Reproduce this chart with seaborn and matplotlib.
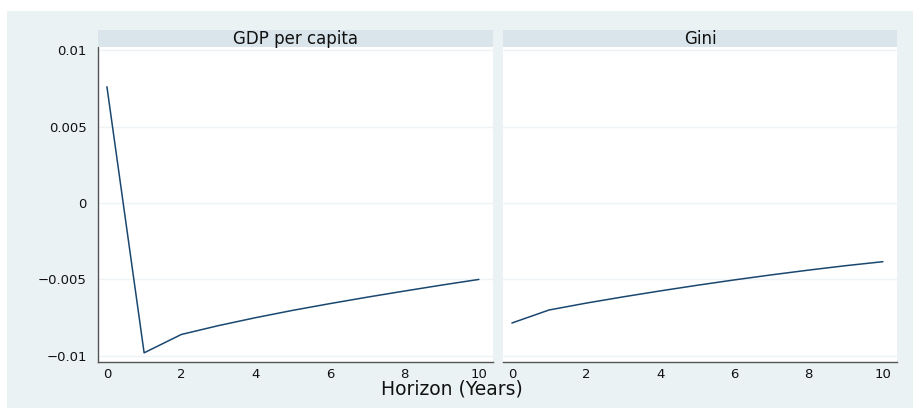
import matplotlib
matplotlib.use("Agg")
import matplotlib.pyplot as plt
from matplotlib.patches import Rectangle
import seaborn as sns
import pandas as pd

horizon = [0, 1, 2, 3, 4, 5, 6, 7, 8, 9, 10]
gdp_per_capita = [0.0076, -0.0098, -0.0086, -0.00802, -0.0075, -0.00702, -0.00658, -0.00616, -0.00576, -0.00537, -0.0050]
gini = [-0.00785, -0.0070, -0.00655, -0.00614, -0.00575, -0.00538, -0.00503, -0.0047, -0.00439, -0.0041, -0.00384]
panel_titles = ["GDP per capita", "Gini"]
y_ticks = [-0.01, -0.005, 0, 0.005, 0.01]
y_tick_labels = ["\u22120.01", "\u22120.005", "0", "0.005", "0.01"]
x_ticks = [0, 2, 4, 6, 8, 10]
x_label = "Horizon (Years)"

sns.set_style("white")
plt.rcParams["font.family"] = ["DejaVu Sans"]

df = pd.concat([
    pd.DataFrame({"horizon": horizon, "value": gdp_per_capita, "panel": panel_titles[0]}),
    pd.DataFrame({"horizon": horizon, "value": gini, "panel": panel_titles[1]}),
])

W, H = 917, 408
fig = plt.figure(figsize=(W / 100, H / 100), dpi=100, facecolor="white")
BG = "#eaf2f3"
STRIP = "#d9e5eb"
LINE = "#1a476f"
TXT = "#111111"
fig.patches.append(Rectangle((7 / W, 0), 906 / W, (H - 11) / H, transform=fig.transFigure,
                             facecolor=BG, edgecolor="none", zorder=-10))

top_px, bot_px = 47, 362
panels = [(98, 493), (503, 897)]
axes = []
for i, (x0, x1) in enumerate(panels):
    ax = fig.add_axes([x0 / W, (H - bot_px) / H, (x1 - x0) / W, (bot_px - top_px) / H])
    ax.set_facecolor("white")
    sub = df[df["panel"] == panel_titles[i]]
    sns.lineplot(data=sub, x="horizon", y="value", ax=ax, color=LINE, linewidth=1.1)
    ax.set_xlim(-0.24, 10.38)
    ax.set_ylim(-0.0104, 0.0102)
    ax.set_yticks(y_ticks)
    ax.set_xticks(x_ticks)
    ax.set_xticklabels([str(t) for t in x_ticks], fontsize=9.5, color=TXT)
    ax.set_xlabel("")
    ax.set_ylabel("")
    for y in y_ticks:
        ax.axhline(y, color="#eef3f5", linewidth=1.0, zorder=0)
    for s in ["top", "right"]:
        ax.spines[s].set_visible(False)
    ax.spines["bottom"].set_color("#555555")
    ax.spines["bottom"].set_linewidth(1.0)
    ax.tick_params(axis="x", direction="out", length=4, width=0.8, color="#555555", pad=0.5)
    if i == 0:
        ax.set_yticklabels(y_tick_labels, fontsize=9.5, color=TXT)
        ax.spines["left"].set_color("#555555")
        ax.spines["left"].set_linewidth(1.0)
        ax.tick_params(axis="y", direction="out", length=6, width=0.8, color="#555555", pad=2)
    else:
        ax.spines["left"].set_visible(False)
        ax.set_yticklabels([])
        ax.tick_params(axis="y", length=0)
    sh = 17 / (bot_px - top_px)
    ax.add_patch(Rectangle((0, 1.0), 1, sh, transform=ax.transAxes, facecolor=STRIP,
                           edgecolor="none", clip_on=False, zorder=3))
    ax.text(0.5, 1.0 + sh / 2, panel_titles[i], transform=ax.transAxes, ha="center",
            va="center", fontsize=12, color=TXT, zorder=4)
    axes.append(ax)

fig.text(452 / W, (H - 389) / H, x_label, ha="center", va="center", fontsize=13.5, color=TXT)

fig.savefig("out.png", dpi=100, facecolor="white")
